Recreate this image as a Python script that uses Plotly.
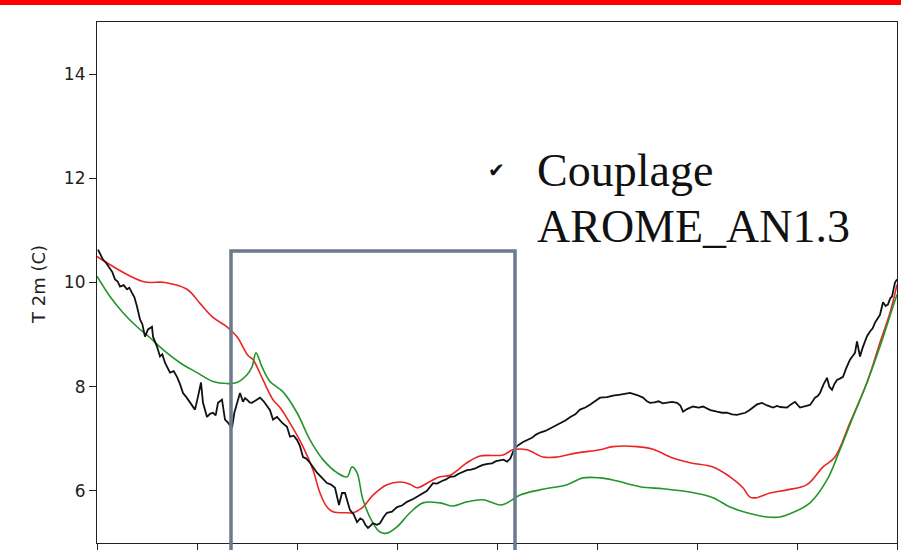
import plotly.graph_objects as go

# hours (x) and 2 m temperature (C)
red_h = [0.0, 1.38, 2.04, 2.7, 3.09, 3.48, 3.9, 4.2, 4.53, 4.68, 4.98, 5.28, 5.49, 5.79, 6.18, 6.48,
         6.69, 6.9, 7.08, 7.5, 7.68, 7.98, 8.28, 8.7, 9.09, 9.39, 9.6, 9.99, 10.29, 10.59, 11.1,
         11.49, 12.18, 12.48, 12.9, 13.38, 13.8, 14.4, 15.09, 15.48, 16.2, 16.68, 17.28, 17.79,
         18.48, 18.99, 19.38, 19.59, 19.8, 20.19, 20.7, 21.3, 21.78, 22.14, 22.59, 23.1, 23.49,
         23.79, 24.0]
red_t = [10.5, 10.02, 10.0, 9.87, 9.6, 9.33, 9.15, 8.96, 8.6, 8.52, 8.13, 7.75, 7.6, 7.3, 6.85, 6.4,
         5.96, 5.69, 5.6, 5.58, 5.58, 5.69, 5.92, 6.12, 6.17, 6.13, 6.06, 6.18, 6.27, 6.3, 6.54,
         6.67, 6.69, 6.79, 6.79, 6.65, 6.65, 6.73, 6.79, 6.85, 6.85, 6.8, 6.63, 6.54,
         6.46, 6.27, 6.06, 5.88, 5.87, 5.96, 6.02, 6.12, 6.46, 6.65, 7.31, 8.08, 8.85,
         9.42, 9.96]

green_h = [0.0, 0.39, 0.78, 1.2, 1.59, 1.98, 2.49, 3.0, 3.48, 3.9, 4.2, 4.5, 4.65, 4.77, 4.95, 5.19,
           5.58, 6.0, 6.39, 6.78, 7.2, 7.5, 7.65, 7.8, 7.98, 8.28, 8.49, 8.7, 9.0, 9.39, 9.78,
           10.29, 10.68, 11.1, 11.58, 12.09, 12.3, 12.69, 13.29, 14.1, 14.58, 15.09, 15.48, 16.29,
           16.98, 17.79, 18.48, 18.99, 19.5, 20.1, 20.49, 20.79, 21.39, 21.9, 22.29, 22.68, 23.1,
           23.49, 23.88, 24.0]
green_t = [10.12, 9.73, 9.42, 9.15, 8.94, 8.71, 8.46, 8.27, 8.1, 8.06, 8.08, 8.23, 8.38, 8.65, 8.38, 8.1,
           7.9, 7.5, 6.98, 6.6, 6.35, 6.27, 6.46, 6.35, 5.83, 5.38, 5.21, 5.19, 5.31, 5.58, 5.77,
           5.77, 5.71, 5.79, 5.83, 5.73, 5.77, 5.92, 6.02, 6.12, 6.25, 6.25, 6.21, 6.08,
           6.04, 5.98, 5.87, 5.69, 5.58, 5.5, 5.5, 5.56, 5.77, 6.21, 6.79, 7.42, 8.08,
           8.77, 9.54, 9.77]

obs_h = [0.03, 0.1, 0.18, 0.27, 0.39, 0.46, 0.54, 0.62, 0.69, 0.8, 0.9, 0.97, 1.05, 1.12, 1.2, 1.29,
         1.36, 1.44, 1.53, 1.65, 1.68, 1.8, 1.89, 1.96, 2.04, 2.1, 2.19, 2.3, 2.4, 2.49, 2.58, 2.68,
         2.79, 2.87, 2.94, 3.03, 3.12, 3.18, 3.3, 3.39, 3.48, 3.56, 3.63, 3.75, 3.84, 3.93, 4.05,
         4.12, 4.2, 4.29, 4.38, 4.44, 4.5, 4.58, 4.65, 4.77, 4.89, 5.0, 5.1, 5.19, 5.28, 5.4, 5.55,
         5.62, 5.7, 5.79, 5.9, 6.0, 6.09, 6.18, 6.28, 6.39, 6.5, 6.6, 6.75, 6.9, 7.02,
         7.14, 7.26, 7.35, 7.44, 7.52, 7.59, 7.7, 7.8, 7.9, 7.98, 8.05, 8.13, 8.2, 8.28, 8.4, 8.49,
         8.6, 8.7, 8.85, 9.0, 9.15, 9.3, 9.5, 9.69, 9.9,
         10.08, 10.2, 10.35, 10.47, 10.59, 10.72, 10.85, 10.97, 11.1, 11.22, 11.35, 11.47, 11.58,
         11.72, 11.85, 11.97, 12.09, 12.2, 12.3, 12.4, 12.48, 12.6, 12.78, 12.9, 13.05,
         13.17, 13.29, 13.45, 13.6, 13.75, 13.89, 14.05, 14.2, 14.35, 14.49, 14.65, 14.8, 14.95,
         15.09, 15.3, 15.48, 15.7, 15.99, 16.2, 16.38, 16.5, 16.59, 16.72, 16.85, 16.97, 17.1,
         17.25, 17.4, 17.5, 17.58, 17.7, 17.88, 18.05, 18.18, 18.4, 18.6, 18.75, 18.9, 19.05,
         19.2, 19.32, 19.45, 19.57, 19.68, 19.8, 19.95, 20.1, 20.28, 20.4, 20.5, 20.6, 20.7,
         20.82, 20.94, 21.09, 21.25, 21.39, 21.47, 21.54, 21.62, 21.69, 21.8, 21.9, 21.97, 22.05,
         22.12, 22.2, 22.3, 22.38, 22.48, 22.59, 22.66, 22.74, 22.8, 22.89, 22.97,
         23.04, 23.1, 23.19, 23.27, 23.34, 23.42, 23.49, 23.58, 23.66, 23.73, 23.8, 23.85, 23.94, 24.0]
obs_t = [10.63, 10.55, 10.44, 10.38, 10.25, 10.2, 10.06, 10.02, 9.92, 9.95, 9.87, 9.9, 9.8, 9.72, 9.54, 9.29,
         9.2, 8.96, 9.1, 9.15, 8.96, 8.77, 8.58, 8.62, 8.46, 8.38, 8.27, 8.3, 8.19, 8.05, 7.88, 7.8,
         7.69, 7.62, 7.56, 7.81, 8.08, 7.69, 7.42, 7.48, 7.5, 7.45, 7.69, 7.75, 7.37, 7.31, 7.21,
         7.5, 7.69, 7.88, 7.71, 7.78, 7.75, 7.7, 7.69, 7.74, 7.79, 7.72, 7.62, 7.55, 7.37, 7.42, 7.31,
         7.28, 7.23, 7.04, 7.06, 6.98, 6.86, 6.65, 6.62, 6.54, 6.44, 6.35, 6.25, 6.15, 6.12,
         6.06, 5.73, 5.96, 5.96, 5.8, 5.63, 5.55, 5.4, 5.47, 5.44, 5.35, 5.29, 5.33, 5.38, 5.35, 5.38,
         5.5, 5.58, 5.6, 5.69, 5.72, 5.79, 5.85, 5.92, 6.0,
         6.15, 6.14, 6.19, 6.22, 6.27, 6.28, 6.33, 6.36, 6.4, 6.41, 6.43, 6.47, 6.5,
         6.52, 6.53, 6.57, 6.58, 6.6, 6.56, 6.62, 6.75, 6.86, 6.94, 6.98, 7.02,
         7.08, 7.12, 7.15, 7.2, 7.26, 7.31, 7.35, 7.42, 7.47, 7.56, 7.6, 7.66, 7.72,
         7.79, 7.8, 7.83, 7.85, 7.88, 7.84, 7.79, 7.72, 7.69, 7.7, 7.72, 7.68, 7.69,
         7.71, 7.69, 7.64, 7.52, 7.57, 7.62, 7.6, 7.62, 7.55, 7.52, 7.5, 7.5, 7.47,
         7.46, 7.48, 7.5, 7.55, 7.6, 7.66, 7.69, 7.64, 7.6, 7.63, 7.61, 7.6, 7.6,
         7.66, 7.71, 7.6, 7.63, 7.65, 7.72, 7.79, 7.82, 7.88, 8.05, 8.17, 8.0, 7.94,
         8.05, 8.13, 8.16, 8.19, 8.36, 8.52, 8.58, 8.65, 8.87, 8.58, 8.75,
         8.87, 8.97, 9.06, 9.12, 9.23, 9.3, 9.38, 9.62, 9.55, 9.58, 9.7, 9.73, 10.0, 10.06]

x_ticks = [0, 3, 6, 9, 12, 15, 18, 21, 24]
y_ticks = [6, 8, 10, 12, 14]
y_tick_labels = ["6", "8", "10", "12", "14"]

fig = go.Figure()
fig.add_trace(go.Scatter(x=red_h, y=red_t, mode="lines", line=dict(color="#ec2424", width=1.6),
                         line_shape="spline", showlegend=False))
fig.add_trace(go.Scatter(x=green_h, y=green_t, mode="lines", line=dict(color="#23962a", width=1.6),
                         line_shape="spline", showlegend=False))
fig.add_trace(go.Scatter(x=obs_h, y=obs_t, mode="lines", line=dict(color="#111111", width=1.8),
                         showlegend=False))

L, R, T, B = 97, 4, 22, 7
W, H = 901, 550
pw = W - L - R
ph = H - T - B

def px(xp):
    return (xp - L) / pw

def py(yp):
    return (H - B - yp) / ph

shapes = [
    # red banner at top
    dict(type="rect", xref="paper", yref="paper", x0=px(0), x1=px(W), y0=py(5), y1=py(0),
         fillcolor="#ff0000", line=dict(width=0), layer="above"),
    # open box (zoom window)
    dict(type="path", xref="paper", yref="paper",
         path=f"M {px(231)} {py(560)} L {px(231)} {py(251)} L {px(515)} {py(251)} L {px(515)} {py(560)}",
         line=dict(color="#6b7a8c", width=3.5), layer="above"),
]

annotations = [
    dict(text="T 2m (C)", xref="paper", yref="paper", x=px(38), y=py(285), textangle=-90,
         showarrow=False, font=dict(family="DejaVu Sans", size=18, color="#222222"),
         xanchor="center", yanchor="middle"),
    dict(text="✔", xref="paper", yref="paper", x=px(496), y=py(170), showarrow=False,
         font=dict(family="DejaVu Sans", size=20, color="#111111"), xanchor="center", yanchor="middle"),
    dict(text="Couplage", xref="paper", yref="paper", x=px(535), y=py(170), showarrow=False,
         font=dict(family="Liberation Serif", size=46, color="#111111"), xanchor="left", yanchor="middle"),
    dict(text="AROME_AN1.3", xref="paper", yref="paper", x=px(535), y=py(226), showarrow=False,
         font=dict(family="Liberation Serif", size=46, color="#111111"), xanchor="left", yanchor="middle"),
]

fig.update_layout(
    width=W, height=H,
    margin=dict(l=L, r=R, t=T, b=B, pad=0, autoexpand=False),
    paper_bgcolor="white", plot_bgcolor="white",
    shapes=shapes, annotations=annotations,
    xaxis=dict(range=[0, 24], tickvals=x_ticks, showticklabels=False, ticks="outside", ticklen=8,
               tickcolor="#222", showgrid=False, zeroline=False, showline=True, linecolor="#222",
               linewidth=1.2, mirror=True, automargin=False),
    yaxis=dict(range=[5, 15], tickvals=y_ticks, ticktext=y_tick_labels, ticks="outside", ticklen=7,
               tickcolor="#222", showgrid=False, zeroline=False, showline=True, linecolor="#222",
               linewidth=1.2, mirror=True, automargin=False,
               tickfont=dict(family="DejaVu Sans", size=17, color="#222")),
)

fig.write_html("out.html", config={"displayModeBar": False},
               post_script="document.body.style.margin='0';document.body.style.overflow='hidden';")
